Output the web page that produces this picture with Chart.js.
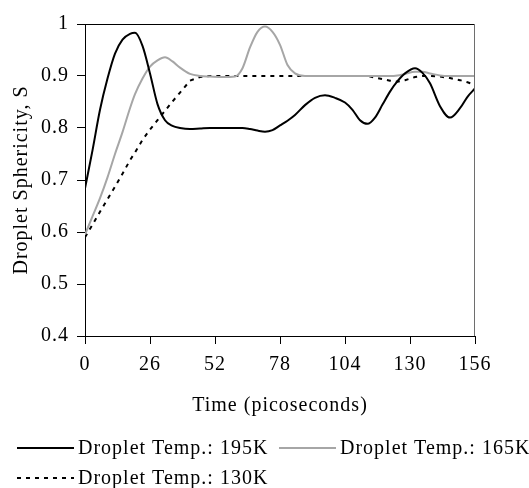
<!DOCTYPE html>
<html>
<head>
<meta charset="utf-8">
<script src="https://cdn.jsdelivr.net/npm/chart.js@4.4.1/dist/chart.umd.min.js"></script>
<style>
  body { margin: 0; background: #fff; }
</style>
</head>
<body>
<canvas id="myChart" width="529" height="488"></canvas>
<script>
// time in picoseconds
const times = [0, 3, 6, 9, 12, 15, 18, 20, 23, 26, 29, 32, 35, 38, 42, 46, 50, 55, 60,
  63, 66, 69, 72, 75, 78, 81, 84, 88, 92, 96, 100, 104, 107, 110, 113, 116, 119, 122,
  125, 128, 132, 135, 138, 142, 146, 150, 153, 156]

const temp195 = [0.684, 0.757, 0.835, 0.895, 0.943, 0.970, 0.981, 0.983, 0.958, 0.905,
  0.846, 0.815, 0.804, 0.800, 0.798, 0.799, 0.800, 0.800, 0.800, 0.800, 0.798, 0.795,
  0.793, 0.796, 0.805, 0.814, 0.825, 0.844, 0.858, 0.863, 0.858, 0.849, 0.835, 0.815,
  0.808, 0.820, 0.845, 0.870, 0.890, 0.905, 0.915, 0.906, 0.886, 0.842, 0.820, 0.838,
  0.860, 0.876]

const temp165 = [0.595, 0.630, 0.665, 0.705, 0.750, 0.792, 0.838, 0.865, 0.895, 0.918,
  0.930, 0.936, 0.928, 0.916, 0.904, 0.900, 0.899, 0.898, 0.899, 0.915, 0.955, 0.985,
  0.995, 0.985, 0.960, 0.921, 0.905, 0.900, 0.900, 0.900, 0.900, 0.900, 0.900, 0.900,
  0.900, 0.900, 0.900, 0.900, 0.901, 0.904, 0.908, 0.908, 0.905, 0.901, 0.900, 0.900,
  0.900, 0.900]

const temp130 = [0.590, 0.614, 0.639, 0.663, 0.687, 0.712, 0.738, 0.753, 0.777, 0.797,
  0.815, 0.833, 0.851, 0.868, 0.891, 0.898, 0.900, 0.900, 0.900, 0.900, 0.900, 0.900,
  0.900, 0.900, 0.900, 0.900, 0.900, 0.900, 0.900, 0.900, 0.900, 0.900, 0.900, 0.900,
  0.900, 0.897, 0.894, 0.891, 0.889, 0.892, 0.898, 0.900, 0.900, 0.899, 0.896, 0.892,
  0.888, 0.883]

const seriesNames = ['Droplet Temp.: 195K', 'Droplet Temp.: 165K', 'Droplet Temp.: 130K']
const xTicks = [0, 26, 52, 78, 104, 130, 156]
const yTicks = [0.4, 0.5, 0.6, 0.7, 0.8, 0.9, 1]

const FONT = 'Liberation Serif'
const GRAY = '#a6a6a6'

function points(values) {
  return times.map((t, i) => ({ x: t, y: values[i] }))
}

// Excel-like loose text
const spacing = {
  id: 'spacing',
  beforeLayout(chart) { chart.ctx.letterSpacing = '1px' },
  beforeDraw(chart) { chart.ctx.letterSpacing = '1px' }
}

// top and right edges of the plot box
const frame = {
  id: 'frame',
  afterDatasetsDraw(chart) {
    const c = chart.ctx
    const a = chart.chartArea
    c.save()
    c.lineWidth = 1
    c.strokeStyle = '#000'
    c.beginPath()
    c.moveTo(a.left, a.top + 0.5)
    c.lineTo(a.right, a.top + 0.5)
    c.stroke()
    c.strokeStyle = '#6e6e6e'
    c.beginPath()
    c.moveTo(a.right - 0.5, a.top)
    c.lineTo(a.right - 0.5, a.bottom)
    c.stroke()
    c.restore()
  }
}

// legend below the chart, two rows
const legendRows = {
  id: 'legendRows',
  afterDraw(chart) {
    const c = chart.ctx
    const items = [
      { x: 17, y: 448, ds: chart.data.datasets[0] },
      { x: 279, y: 448, ds: chart.data.datasets[1] },
      { x: 17, y: 478, ds: chart.data.datasets[2] }
    ]
    c.save()
    c.letterSpacing = '1px'
    c.font = '20px "' + FONT + '"'
    c.textBaseline = 'middle'
    c.fillStyle = '#000'
    items.forEach(it => {
      c.strokeStyle = it.ds.borderColor
      c.lineWidth = 2
      c.setLineDash(it.ds.borderDash || [])
      c.beginPath()
      c.moveTo(it.x, it.y)
      c.lineTo(it.x + 57, it.y)
      c.stroke()
      c.setLineDash([])
      c.fillText(it.ds.label, it.x + 61, it.y + 1)
    })
    c.restore()
  }
}

const data = {
  datasets: [
    {
      label: seriesNames[0],
      data: points(temp195),
      borderColor: '#000',
      borderWidth: 2,
      pointRadius: 0,
      cubicInterpolationMode: 'monotone'
    },
    {
      label: seriesNames[1],
      data: points(temp165),
      borderColor: GRAY,
      borderWidth: 2,
      pointRadius: 0,
      cubicInterpolationMode: 'monotone'
    },
    {
      label: seriesNames[2],
      data: points(temp130),
      borderColor: '#000',
      borderWidth: 2,
      borderDash: [4, 5],
      pointRadius: 0,
      tension: 0
    }
  ]
}

const config = {
  type: 'line',
  data: data,
  options: {
    responsive: false,
    animation: false,
    layout: { padding: { top: 24, right: 54, bottom: 70, left: 0 } },
    plugins: {
      legend: { display: false },
      tooltip: { enabled: false }
    },
    scales: {
      x: {
        type: 'linear',
        min: xTicks[0],
        max: xTicks[xTicks.length - 1],
        afterBuildTicks: s => { s.ticks = xTicks.map(v => ({ value: v })) },
        afterFit: s => { s.height = 82 },
        ticks: { color: '#000', font: { family: FONT, size: 20 }, padding: 9, maxRotation: 0 },
        grid: { drawOnChartArea: false, color: '#000', tickLength: 8 },
        border: { color: '#000', width: 1 },
        title: {
          display: true,
          text: 'Time (picoseconds)',
          color: '#000',
          font: { family: FONT, size: 20 },
          padding: { top: 0, bottom: 0 }
        }
      },
      y: {
        min: yTicks[0],
        max: yTicks[yTicks.length - 1],
        afterBuildTicks: s => { s.ticks = yTicks.map(v => ({ value: v })) },
        afterFit: s => { s.width = 85 },
        ticks: { color: '#000', font: { family: FONT, size: 20 }, padding: 8, callback: v => String(+v.toFixed(1)) },
        grid: { drawOnChartArea: false, color: '#000', tickLength: 8 },
        border: { color: '#000', width: 1 },
        title: {
          display: true,
          text: 'Droplet Sphericity, S',
          color: '#000',
          font: { family: FONT, size: 20 },
          padding: { top: 10, bottom: 0 }
        }
      }
    }
  },
  plugins: [spacing, frame, legendRows]
}

const myChart = new Chart(document.getElementById('myChart'), config)
</script>
</body>
</html>
